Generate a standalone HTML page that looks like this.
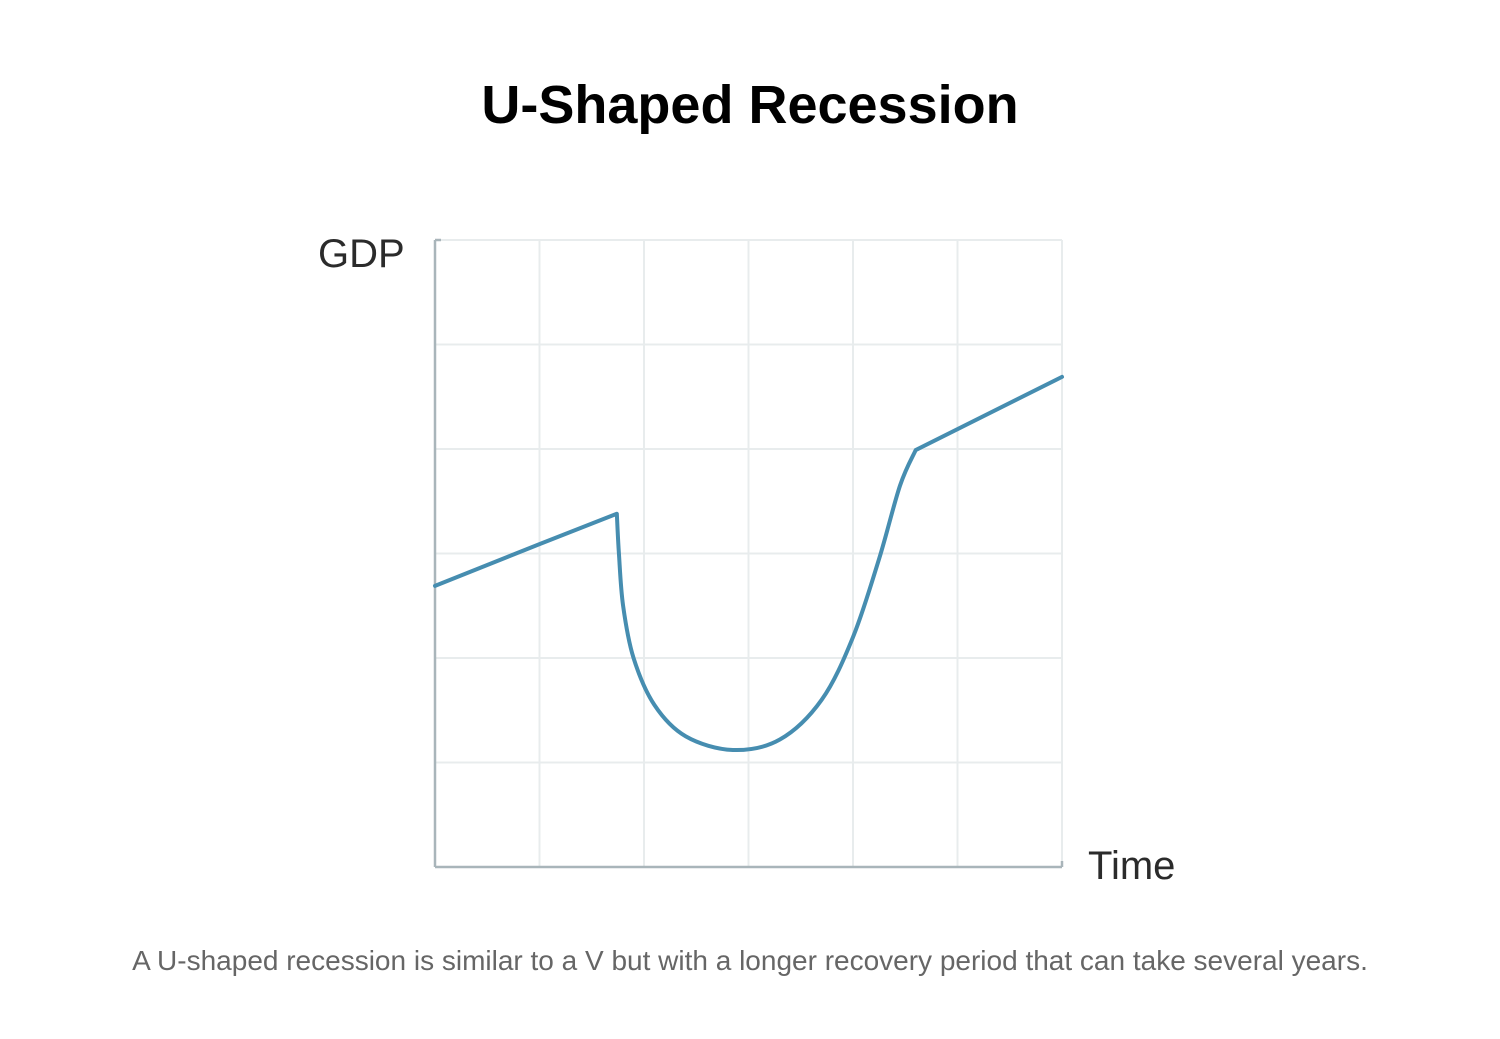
<!DOCTYPE html>
<html><head><meta charset="utf-8"><style>
html,body{margin:0;padding:0;background:#fff;width:1500px;height:1039px;overflow:hidden}
svg text{font-family:"Liberation Sans",sans-serif}
</style></head><body>
<svg width="1500" height="1039" viewBox="0 0 1500 1039">
<text x="750" y="123" text-anchor="middle" font-size="54" font-weight="bold" fill="#000">U-Shaped Recession</text>
<g id="grid"></g>
<g id="axes"></g>
<path id="line" fill="none" stroke="#468db0" stroke-width="4" stroke-linejoin="round" stroke-linecap="round"/>
<text x="318" y="267" font-size="40" fill="#2b2b2b">GDP</text>
<text x="1088" y="879" font-size="40" fill="#2b2b2b">Time</text>
<text x="750" y="970" text-anchor="middle" font-size="28" fill="#666">A U-shaped recession is similar to a V but with a longer recovery period that can take several years.</text>
</svg>
<script>
const xs=[0,1,1.74,1.76,1.8,1.9,2.1,2.4,2.85,3.3,3.7,4.0,4.25,4.45,4.6,6.0];
const ys=[2.69,3.09,3.38,3.0,2.5,2.0,1.55,1.25,1.12,1.22,1.6,2.2,2.95,3.65,3.99,4.69];
const gridTicks=[0,1,2,3,4,5,6];
const X0=435,Y0=867,U=104.5;
const sx=v=>X0+v*U, sy=v=>Y0-v*U;
const ns='http://www.w3.org/2000/svg';
const grid=document.getElementById('grid');
gridTicks.forEach(t=>{
  if(t>0){
    const v=document.createElementNS(ns,'line');
    
    
    v.setAttribute('x1',sx(t));v.setAttribute('x2',sx(t));v.setAttribute('y1',sy(6));v.setAttribute('y2',Y0);
    v.setAttribute('stroke','#e8eced');v.setAttribute('stroke-width','2');grid.appendChild(v);
    const h=document.createElementNS(ns,'line');
    
    
    h.setAttribute('x1',X0);h.setAttribute('x2',sx(6));h.setAttribute('y1',sy(t));h.setAttribute('y2',sy(t));
    h.setAttribute('stroke','#e8eced');h.setAttribute('stroke-width','2');grid.appendChild(h);
  }
});
const axes=document.getElementById('axes');
function ln(name,x1,y1,x2,y2){const l=document.createElementNS(ns,'line');


l.setAttribute('x1',x1);l.setAttribute('y1',y1);l.setAttribute('x2',x2);l.setAttribute('y2',y2);
l.setAttribute('stroke','#a9b5ba');l.setAttribute('stroke-width','2.5');axes.appendChild(l);}
ln('y-axis',X0,sy(6),X0,Y0);
ln('x-axis',X0,Y0,sx(6),Y0);
ln('y-axis-cap',X0,sy(6),X0+6,sy(6));
ln('x-axis-cap',sx(6),Y0,sx(6),Y0-6);
const P=xs.map((x,i)=>[sx(x),sy(ys[i])]);
let d=`M${P[0][0]},${P[0][1]} L${P[1][0]},${P[1][1]} L${P[2][0]},${P[2][1]}`;
const s=2,e=14;
for(let i=s;i<e;i++){
  const p0=P[Math.max(i-1,s)],p1=P[i],p2=P[i+1],p3=P[Math.min(i+2,e)];
  const c1=[p1[0]+(p2[0]-p0[0])/6,p1[1]+(p2[1]-p0[1])/6];
  const c2=[p2[0]-(p3[0]-p1[0])/6,p2[1]-(p3[1]-p1[1])/6];
  d+=` C${c1[0]},${c1[1]} ${c2[0]},${c2[1]} ${p2[0]},${p2[1]}`;
}
d+=` L${P[15][0]},${P[15][1]}`;
document.getElementById('line').setAttribute('d',d);
</script>
</body></html>
